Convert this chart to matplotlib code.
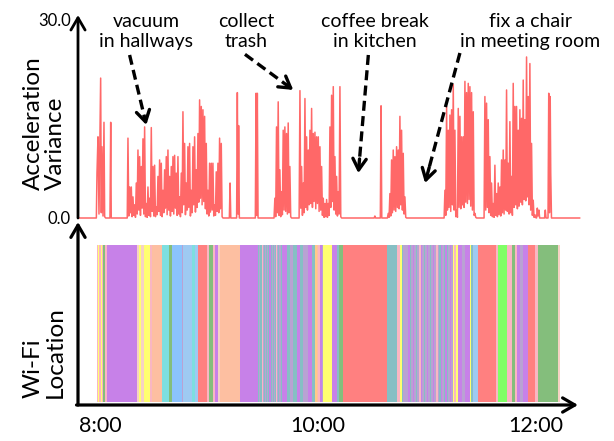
import numpy as np
import matplotlib
matplotlib.use('Agg')
import matplotlib.pyplot as plt

plt.rcParams['font.family'] = ['Lato', 'DejaVu Sans']

# ---------------- data ----------------
# time axis: minutes after 8:00
tick_pos = [0, 120, 240]
tick_labels = ['8:00', '10:00', '12:00']

SAMPLE_STEP = 0.4585  # minutes between samples inside dense bursts

# isolated samples (minute, variance)
sparse_t = [-12.0, -2.75, -2.0, -1.65, -1.1, -0.55, 0.37, 0.73, 1.1, 1.65, 2.2, 2.57, 3.1,
            5.5, 5.9, 6.2, 15.0,
            71.2, 71.6, 72.0, 75.2, 75.6, 76.0, 76.3, 76.7, 85.5, 85.9, 86.2, 86.6, 87.0,
            150.9, 151.3, 151.7, 154.3, 154.7, 155.1,
            240.7, 241.1, 241.6, 242.0, 244.7, 245.1, 245.5, 246.6, 247.0, 247.4, 247.8,
            248.1, 248.5, 264.0]
sparse_v = [0, 0, 0, 6.8, 12.3, 0.6, 21.2, 0.8, 10.8, 0.3, 14.5, 0.2, 0,
            0, 14.5, 0, 0,
            0, 5.3, 0, 0, 19.0, 0.6, 14.0, 0, 0, 18.9, 0.4, 18.9, 0,
            0, 0.3, 0, 0, 17.0, 0,
            1.5, 0.3, 1.2, 0, 0, 1.2, 0, 0, 18.9, 0.8, 18.4,
            6.8, 0, 0]

burst_a_start = 15.4
burst_a = [12.1, 0.3, 4.7, 0.8, 4.7, 0.2, 3.2, 0.4, 2.0, 0.1, 5.3, 0.6, 10.3, 1.2, 9.3, 0.4,
           7.8, 1.5, 12.0, 0.6, 13.8, 0.2, 2.2, 0.1, 4.7, 0.4, 3.0, 0.2, 13.7, 1.0, 7.8, 0.3,
           8.0, 0.2, 1.7, 0.5, 6.3, 1.0, 8.8, 0.4, 8.3, 0.2, 4.2, 0.8, 7.3, 1.5, 9.3, 0.5,
           10.3, 1.2, 6.3, 0.3, 7.8, 1.0, 9.3, 0.6, 9.5, 1.5, 6.8, 0.4, 9.3, 0.6, 3.2, 0.2,
           6.8, 0.8, 16.1, 2.0, 11.3, 0.5, 5.3, 1.2, 10.8, 1.6, 11.3, 0.3, 4.2, 0.8, 10.8, 2.0,
           12.3, 0.9, 7.3, 1.6, 12.8, 2.4, 17.9, 3.0, 16.9, 2.0, 16.4, 2.5, 15.4, 1.4, 11.3, 0.6,
           4.2, 0.3, 8.3, 0.9, 8.3, 1.2, 8.3, 0.3, 2.0, 0.4, 7.0, 1.0, 8.3, 0.8, 12.1, 1.4,
           11.3, 0.2, 0.0]

burst_b_start = 95.8
burst_b = [0, 3.0, 0.2, 13.8, 0.8, 17.6, 0.4, 7.3, 0.2, 4.0, 0.5, 13.3, 1.2, 13.8, 1.0, 12.8,
           0.6, 14.4, 0.8, 7.8, 0.2, 0]

burst_c_start = 109.6
burst_c = [0, 19.3, 1.5, 7.8, 0.4, 5.3, 0.8, 18.1, 1.6, 12.3, 1.2, 10.3, 2.0, 13.3, 2.2, 16.6,
           1.6, 12.8, 2.5, 13.0, 1.4, 12.3, 2.2, 12.3, 1.0, 10.8, 1.2, 7.8, 0.4, 3.0, 0.1, 2.2,
           0.2, 2.8, 0.1, 2.2, 0.4, 13.8, 1.6, 18.6, 2.5, 19.9, 1.2, 9.3, 0.6, 6.3, 0.3, 4.0,
           0.6, 19.9, 0.2, 0]

burst_d_start = 158.2
burst_d = [0, 0.7, 0.1, 3.7, 0.3, 8.8, 0.8, 10.3, 1.2, 9.3, 1.0, 10.8, 1.6, 10.3, 1.4, 15.4,
           2.0, 13.3, 1.2, 9.8, 0.6, 3.2, 0.1, 0]

burst_e_start = 189.4
burst_e = [0, 4.2, 0.4, 16.9, 1.2, 13.3, 1.6, 15.6, 1.0, 16.4, 2.0, 20.2, 1.2, 13.3, 0.2, 1.2,
           0.1, 16.6, 1.6, 15.4, 1.4, 12.3, 2.0, 12.3, 1.6, 20.7, 2.4, 19.0, 2.2, 20.4, 2.8, 19.9,
           1.8, 19.0, 1.2, 16.1, 0.4, 0.7, 0.1, 0]

burst_f_start = 211.4
burst_f = [0, 18.4, 1.2, 17.4, 1.6, 14.9, 0.8, 9.3, 0.4, 5.3, 0.2, 2.2, 0.1, 8.0, 0.4, 3.7,
           0.2, 5.3, 0.5, 4.7, 0.3, 8.8, 0.8, 10.3, 0.6, 8.8, 1.2, 19.4, 1.0, 8.3, 0.6, 14.6,
           0.8, 6.3, 0.4, 20.4, 1.6, 16.9, 2.0, 16.9, 1.4, 13.3, 1.8, 16.4, 2.4, 15.1, 2.0, 20.9,
           2.8, 14.9, 2.6, 24.4, 3.2, 18.4, 2.0, 23.4, 1.2, 11.3, 0.4, 2.7, 0.1, 0.5, 0.05, 0]

# Wi-Fi location segments: start minute and location id (last edge = end of recording)
loc_start = [-1.8, -1.1, -0.55, 0.4, 1.1, 1.8, 2.75, 3.7, 20.2, 21.5, 22.6, 24.2, 27.5, 28.5,
             34.0, 38.1, 39.5, 45.0, 45.8, 50.5, 52.3, 54.1, 58.7, 60.2, 62.4, 63.3, 65.1,
             66.0, 77.1,
             87.1, 87.7, 88.3, 88.9, 89.6, 90.2, 90.8, 91.4, 92.0, 92.6, 93.2, 93.9, 94.5,
             95.1, 95.7, 96.3, 96.9, 97.5, 98.2, 98.8, 99.4,
             100.0, 102.7, 104.5, 106.4, 108.2, 110.1, 111.9, 114.7, 116.5, 118.3, 119.3,
             120.2, 121.1, 122.0, 122.9, 127.5, 130.6, 131.7, 133.9, 157.8, 163.3, 165.1,
             166.0, 166.9,
             168.8, 169.65, 170.5, 171.35, 172.2, 173.05, 173.9, 174.75, 175.6, 176.45, 177.3,
             178.15, 179.0, 179.85, 180.7, 181.55, 182.4, 183.25, 184.1, 184.95, 185.8, 186.65,
             187.5, 188.35, 189.2, 190.05, 190.9, 191.75, 192.6, 193.45,
             194.3, 195.0, 196.0, 197.2, 199.0, 200.9, 203.7, 204.4, 205.2, 208.2, 218.0,
             219.2, 223.9, 226.6, 228.4, 229.8, 231.2, 233.0, 235.7, 239.4, 241.2, 252.3]
loc_end = 253.2
loc_id = ['K', 'Y', 'K', 'Y', 'K', 'G', 'K', 'P', 'W', 'Y', 'W', 'Y', 'K', 'O',
          'C', 'G', 'B', 'V', 'S', 'C', 'S', 'R', 'K', 'G', 'K', 'P', 'W',
          'O', 'P',
          'T', 'V', 'T', 'K', 'V', 'T', 'V', 'T', 'V', 'T', 'P', 'T', 'V',
          'T', 'V', 'T', 'K', 'V', 'T', 'V', 'T',
          'P', 'T', 'V', 'T', 'P', 'T', 'V', 'P', 'T', 'N', 'O',
          'K', 'P', 'V', 'Y', 'P', 'T', 'G', 'R', 'T', 'K', 'Y',
          'T', 'V',
          'V', 'P', 'T', 'V', 'P', 'V', 'T', 'V', 'K', 'P', 'V',
          'T', 'V', 'P', 'V', 'T', 'V', 'P', 'V', 'K', 'V', 'T',
          'P', 'V', 'T', 'P', 'T', 'V', 'P', 'V',
          'Y', 'K', 'Y', 'P', 'V', 'P', 'Y', 'T', 'S', 'R', 'K',
          'L', 'K', 'G', 'K', 'P', 'V', 'P', 'R', 'K', 'G', 'W']

loc_colors = {'P': '#c781e8', 'Y': '#ffff70', 'O': '#fdbfa1', 'C': '#7ddfe0',
              'B': '#8bc3fd', 'S': '#9ecaf2', 'G': '#84be7c', 'R': '#ff8080',
              'T': '#86bfc4', 'V': '#b9a2d3', 'K': '#f9b6c3', 'L': '#80ff66',
              'W': '#f6d2c4', 'N': '#ffc98a'}

annot_text = ['vacuum\nin hallways', 'collect\ntrash', 'coffee break\nin kitchen',
              'fix a chair\nin meeting room']
annot_text_x = [25.3, 80.4, 151.4, 236.7]
annot_tail = [(16.3, 24.7), (79.8, 24.8), (147.7, 24.7), (198.1, 25.0)]
annot_head = [(25.5, 14.1), (106.4, 19.4), (142.2, 6.8), (178.9, 5.3)]

# ---------------- build series ----------------
t_parts = [np.array(sparse_t)]
v_parts = [np.array(sparse_v)]
for start, vals in [(burst_a_start, burst_a), (burst_b_start, burst_b), (burst_c_start, burst_c),
                    (burst_d_start, burst_d), (burst_e_start, burst_e), (burst_f_start, burst_f)]:
    t_parts.append(start + SAMPLE_STEP * np.arange(len(vals)))
    v_parts.append(np.array(vals, dtype=float))
acc_t = np.concatenate(t_parts)
acc_v = np.concatenate(v_parts)
order = np.argsort(acc_t, kind='stable')
acc_t, acc_v = acc_t[order], acc_v[order]

# ---------------- figure ----------------
W, H = 614, 441
fig = plt.figure(figsize=(W / 100, H / 100), dpi=100)
XMIN, XMAX = -12.1, 263.1

ax1 = fig.add_axes([78 / W, 1 - 218 / H, 500 / W, 198 / H])
ax2 = fig.add_axes([78 / W, 1 - 405 / H, 500 / W, 183 / H])

# top panel
ax1.plot(acc_t, acc_v, color='#ff4d4d', lw=1.1, alpha=0.85, clip_on=False)
ax1.set_xlim(XMIN, XMAX)
ax1.set_ylim(0, 30)
for s in ax1.spines.values():
    s.set_visible(False)
ax1.set_xticks([])
ax1.set_yticks([0, 30])
ax1.set_yticklabels(['0.0', '30.0'], fontsize=12)
ax1.tick_params(axis='y', length=0, pad=5)
axis_arrow = dict(arrowstyle='->,head_length=0.55,head_width=0.32', lw=2.0, color='black',
                  mutation_scale=16, shrinkA=0, shrinkB=0)
ax1.annotate('', xy=(0, 1.025), xytext=(0, 0), xycoords='axes fraction', arrowprops=axis_arrow)

for txt, tx in zip(annot_text, annot_text_x):
    ax1.text(tx, 28.3, txt, ha='center', va='center', fontsize=14, linespacing=1.2,
             clip_on=False)
for (x0, y0), (x1, y1) in zip(annot_tail, annot_head):
    fx = x1 - (x1 - x0) * 0.12
    fy = y1 - (y1 - y0) * 0.12
    ax1.plot([x0, fx], [y0, fy], color='black', lw=2.4, dashes=(3, 1.6), solid_capstyle='butt')
    ax1.annotate('', xy=(x1, y1), xytext=(fx, fy),
                 arrowprops=dict(arrowstyle='->,head_length=0.5,head_width=0.3', lw=2.4,
                                 color='black', mutation_scale=16, shrinkA=0, shrinkB=0))

# bottom panel
edges = np.array(loc_start + [loc_end])
widths = np.diff(edges)
ax2.bar(edges[:-1], 0.858, width=widths, bottom=0.018, align='edge',
        color=[loc_colors[k] for k in loc_id], linewidth=0)
ax2.set_xlim(XMIN, XMAX)
ax2.set_ylim(0, 1)
for s in ax2.spines.values():
    s.set_visible(False)
ax2.set_yticks([])
ax2.set_xticks(tick_pos)
ax2.set_xticklabels(tick_labels, fontsize=15.5)
ax2.tick_params(axis='x', length=0, pad=8)
axis_arrow2 = dict(axis_arrow, lw=2.3)
ax2.annotate('', xy=(0, 1.0), xytext=(0, 0), xycoords='axes fraction', arrowprops=axis_arrow2)
ax2.annotate('', xy=(1.0, 0), xytext=(-0.003, 0), xycoords='axes fraction', arrowprops=axis_arrow2)

# axis titles
fig.text(44 / W, 1 - 190 / H, 'Acceleration\nVariance', rotation=90, ha='center', va='bottom',
         multialignment='left', fontsize=17.5, linespacing=1.05)
fig.text(44 / W, 1 - 398 / H, 'Wi-Fi\nLocation', rotation=90, ha='center', va='bottom',
         multialignment='left', fontsize=17.5, linespacing=1.05)

fig.savefig('out.png', dpi=100)
